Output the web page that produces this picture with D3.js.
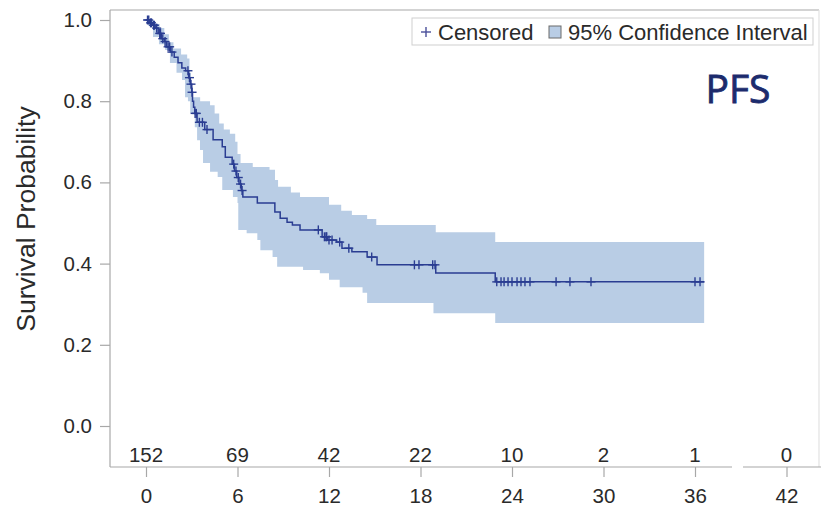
<!DOCTYPE html>
<html>
<head>
<meta charset="utf-8">
<script src="https://cdn.jsdelivr.net/npm/d3@7"></script>
<style>
  html, body { margin: 0; padding: 0; background: #fff; }
  svg { display: block; }
  text { font-family: "Liberation Sans", Arial, sans-serif; }
</style>
</head>
<body>
<svg id="chart" width="821" height="507"></svg>
<script>
// ---------- data ----------
const xTicks = [0, 6, 12, 18, 24, 30, 36, 42];
const atRisk = [152, 69, 42, 22, 10, 2, 1, 0];
const yTicks = [0.0, 0.2, 0.4, 0.6, 0.8, 1.0];

// KM step function: time of event -> survival after event
const eventTimes = [0, 0.25, 0.45, 0.6, 0.8, 1.0, 1.2, 1.35, 1.6, 1.85, 2.1, 2.35, 2.6, 2.8, 2.9, 3.0, 3.05, 3.12, 3.2, 3.35, 3.85, 4.4, 5.0, 5.2, 5.65, 5.8, 5.95, 6.1, 6.25, 6.35, 7.3, 8.45, 8.8, 9.25, 9.6, 10.1, 11.55, 11.9, 12.5, 12.85, 13.5, 14.5, 15.15, 19.0, 22.9];
const survival   = [1.0, 0.993, 0.987, 0.980, 0.967, 0.954, 0.947, 0.934, 0.921, 0.908, 0.895, 0.882, 0.875, 0.858, 0.842, 0.822, 0.800, 0.785, 0.770, 0.748, 0.730, 0.705, 0.688, 0.662, 0.645, 0.628, 0.612, 0.596, 0.580, 0.564, 0.549, 0.527, 0.512, 0.502, 0.495, 0.483, 0.466, 0.458, 0.453, 0.438, 0.429, 0.416, 0.397, 0.377, 0.355];
const lastTime = 36.6;

const censorTimes = [0.1, 0.18, 0.3, 0.36, 0.5, 0.55, 0.7, 0.9, 0.95, 1.1, 1.25, 1.45, 1.55, 1.7, 2.75, 2.85, 2.95, 3.02, 3.22, 3.3, 3.5, 3.7, 4.0, 5.75, 5.9, 6.05, 6.2, 6.3, 11.3, 11.7, 11.8, 11.85, 12.0, 12.2, 12.7, 13.3, 14.8, 17.6, 17.9, 18.8, 18.95, 23.0, 23.28, 23.48, 23.74, 24.0, 24.33, 24.59, 24.85, 25.18, 26.89, 27.8, 29.18, 36.0, 36.33];

// 95% CI step functions
const upperTimes  = [0, 0.5, 0.9, 1.2, 1.5, 1.8, 2.3, 2.7, 2.85, 2.95, 3.05, 3.55, 4.2, 4.5, 4.8, 5.1, 5.5, 5.85, 6.0, 6.2, 7.0, 8.1, 8.46, 8.66, 9.5, 10.1, 12.0, 12.8, 13.5, 14.5, 15.1, 19.0, 22.9];
const upperValues = [1.0, 0.99, 0.98, 0.965, 0.945, 0.93, 0.915, 0.905, 0.87, 0.835, 0.81, 0.80, 0.79, 0.77, 0.745, 0.73, 0.72, 0.70, 0.67, 0.648, 0.638, 0.631, 0.606, 0.589, 0.575, 0.564, 0.545, 0.53, 0.52, 0.51, 0.495, 0.477, 0.453];
const lowerTimes  = [0, 0.15, 0.46, 0.85, 1.25, 1.57, 2.0, 2.36, 2.56, 2.75, 2.9, 3.2, 3.35, 3.54, 3.74, 4.2, 4.7, 5.0, 5.7, 6.0, 6.05, 6.6, 7.3, 7.5, 8.3, 8.6, 10.3, 11.4, 12.0, 12.7, 14.2, 14.5, 18.85, 22.9];
const lowerValues = [1.0, 0.985, 0.958, 0.94, 0.926, 0.894, 0.87, 0.852, 0.81, 0.80, 0.771, 0.736, 0.704, 0.68, 0.648, 0.626, 0.613, 0.581, 0.564, 0.549, 0.483, 0.475, 0.458, 0.433, 0.416, 0.392, 0.384, 0.376, 0.36, 0.342, 0.328, 0.303, 0.278, 0.254];

// ---------- styles ----------
const lineColor = "#2a3d92";
const bandColor = "#b9cde5";
const axisColor = "#a8a8a8";
const textColor = "#2a2a2a";

const svg = d3.select("#chart");

const x = d3.scaleLinear().domain([0, 42]).range([146, 786.5]);
const y = d3.scaleLinear().domain([0, 1]).range([426, 20]);

const frameLeft = 110, frameTop = 10, frameBottom = 467, frameRight = 819;

function stepValue(times, values, t) {
  const i = d3.bisectRight(times, t) - 1;
  return values[Math.max(0, i)];
}

// ---------- CI band ----------
const allTimes = Array.from(new Set([...upperTimes, ...lowerTimes, lastTime])).sort((a, b) => a - b);
const bandData = allTimes.map(t => ({ t, lo: stepValue(lowerTimes, lowerValues, t), hi: stepValue(upperTimes, upperValues, t) }));
const area = d3.area()
  .x(d => x(d.t))
  .y0(d => y(d.lo))
  .y1(d => y(d.hi))
  .curve(d3.curveStepAfter);
svg.append("path").datum(bandData).attr("d", area).attr("fill", bandColor).attr("stroke", "none");

// ---------- frame / axes ----------
const g = svg.append("g").attr("stroke", axisColor).attr("stroke-width", 1.2).attr("fill", "none");
g.append("line").attr("x1", frameLeft).attr("x2", frameRight).attr("y1", frameTop).attr("y2", frameTop);
g.append("line").attr("x1", frameLeft).attr("x2", frameLeft).attr("y1", frameTop).attr("y2", frameBottom);
g.append("line").attr("x1", frameRight).attr("x2", frameRight).attr("y1", frameTop).attr("y2", frameBottom).attr("stroke", "#e2e2e2");
g.append("line").attr("x1", frameLeft).attr("x2", 732).attr("y1", frameBottom).attr("y2", frameBottom);
g.append("line").attr("x1", 743).attr("x2", 821).attr("y1", frameBottom).attr("y2", frameBottom);

// y axis ticks & labels
const yAxis = d3.axisLeft(y).tickValues(yTicks).tickFormat(d3.format(".1f")).tickSize(10).tickPadding(8);
const yg = svg.append("g").attr("transform", `translate(${frameLeft},0)`).call(yAxis);
yg.select(".domain").remove();
yg.selectAll(".tick line").attr("stroke", axisColor).attr("stroke-width", 1.2);
yg.selectAll(".tick text").attr("fill", textColor).style("font-size", "20.5px").style("font-family", "Liberation Sans, Arial, sans-serif");

// x axis ticks & labels
const xAxis = d3.axisBottom(x).tickValues(xTicks).tickFormat(d3.format("d")).tickSize(10).tickPadding(11);
const xg = svg.append("g").attr("transform", `translate(0,${frameBottom})`).call(xAxis);
xg.select(".domain").remove();
xg.selectAll(".tick line").attr("stroke", axisColor).attr("stroke-width", 1.2);
xg.selectAll(".tick text").attr("fill", textColor).style("font-size", "20.5px").style("font-family", "Liberation Sans, Arial, sans-serif");

// at-risk numbers
svg.append("g").selectAll("text").data(xTicks).join("text")
  .attr("x", d => x(d)).attr("y", 462)
  .attr("text-anchor", "middle")
  .attr("fill", textColor)
  .style("font-size", "20.5px")
  .text((d, i) => atRisk[i]);

// y axis title
svg.append("text")
  .attr("transform", "translate(35,219) rotate(-90)")
  .attr("text-anchor", "middle")
  .attr("fill", textColor)
  .style("font-size", "26.5px")
  .text("Survival Probability");

// ---------- KM curve ----------
const curveData = eventTimes.map((t, i) => ({ t, s: survival[i] }));
curveData.push({ t: lastTime, s: survival[survival.length - 1] });
const line = d3.line().x(d => x(d.t)).y(d => y(d.s)).curve(d3.curveStepAfter);
svg.append("path").datum(curveData).attr("d", line)
  .attr("fill", "none").attr("stroke", lineColor).attr("stroke-width", 1.5);

// censor marks
const cs = 4.5;
const cg = svg.append("g").attr("stroke", lineColor).attr("stroke-width", 1.4);
censorTimes.forEach(t => {
  const cx = x(t), cy = y(stepValue(eventTimes, survival, t));
  cg.append("line").attr("x1", cx - cs).attr("x2", cx + cs).attr("y1", cy).attr("y2", cy);
  cg.append("line").attr("x1", cx).attr("x2", cx).attr("y1", cy - cs).attr("y2", cy + cs);
});

// ---------- legend ----------
const lg = svg.append("g");
lg.append("rect").attr("x", 412).attr("y", 18).attr("width", 401).attr("height", 27)
  .attr("fill", "#fff").attr("stroke", "#cfcfcf").attr("stroke-width", 1);
lg.append("line").attr("x1", 421).attr("x2", 431).attr("y1", 32).attr("y2", 32).attr("stroke", "#4a4f9a").attr("stroke-width", 1.4);
lg.append("line").attr("x1", 426).attr("x2", 426).attr("y1", 27).attr("y2", 37).attr("stroke", "#4a4f9a").attr("stroke-width", 1.4);
lg.append("text").attr("x", 438).attr("y", 39.5).attr("fill", textColor).style("font-size", "22px").text("Censored");
lg.append("rect").attr("x", 549).attr("y", 26).attr("width", 12).attr("height", 12)
  .attr("fill", bandColor).attr("stroke", "#6a6a6a").attr("stroke-width", 1);
lg.append("text").attr("x", 568).attr("y", 39.5).attr("fill", textColor).style("font-size", "22px").text("95% Confidence Interval");

// PFS label
svg.append("text").attr("x", 738).attr("y", 103).attr("text-anchor", "middle")
  .attr("fill", "#1c2b6d")
  .attr("stroke", "#1c2b6d").attr("stroke-width", 0.8)
  .style("font-family", "'Open Sans', 'Noto Sans', sans-serif")
  .style("font-size", "39px")
  .text("PFS");
</script>
</body>
</html>
